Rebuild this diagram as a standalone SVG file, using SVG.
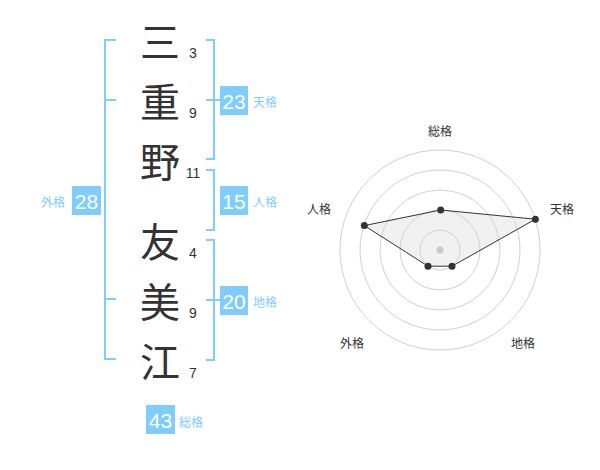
<svg xmlns="http://www.w3.org/2000/svg" width="600" height="470" viewBox="0 0 600 470">
<style>
.k{font-family:"Noto Sans CJK JP","Noto Sans CJK SC",sans-serif;font-size:40px;fill:#333;text-anchor:middle;dominant-baseline:central}
.n{font-family:"Liberation Sans",Arial,sans-serif;font-size:14px;fill:#333;text-anchor:middle;dominant-baseline:central}
.br{fill:none;stroke:#80ccfb;stroke-width:2}
.bx{fill:#80ccfb}
.bn{font-family:"Liberation Sans",Arial,sans-serif;font-size:21px;fill:#fff;text-anchor:middle;dominant-baseline:central}
.bl{font-family:"Noto Sans CJK JP",sans-serif;font-size:12px;fill:#80ccfb;dominant-baseline:central}
.ring{fill:none;stroke:#d0d0d0;stroke-width:1}
.rl{font-family:"Noto Sans CJK JP",sans-serif;font-size:12px;fill:#333;text-anchor:middle;dominant-baseline:central}
</style>
<g id="name">
<text class="k" x="160" y="40">三</text>
<text class="k" x="160" y="100">重</text>
<text class="k" x="160" y="160">野</text>
<text class="k" x="160" y="240">友</text>
<text class="k" x="160" y="300">美</text>
<text class="k" x="160" y="360">江</text>
<text class="n" x="193" y="53">3</text>
<text class="n" x="193" y="113">9</text>
<text class="n" x="193" y="173">11</text>
<text class="n" x="193" y="253">4</text>
<text class="n" x="193" y="313">9</text>
<text class="n" x="193" y="373">7</text>
</g>
<g id="connectors">
<path class="br" d="M116,40H105V359H116M105,100H116M105,299H116"/>
<path class="br" d="M206,40H214V159H206M206,100H220"/>
<path class="br" d="M206,170H214V230H206"/>
<path class="br" d="M206,240H214V360H206M206,300H220"/>
</g>
<g id="tenkaku">
<rect class="bx" x="220" y="86" width="28" height="29"/>
<text class="bn" x="234" y="101">23</text>
<text class="bl" x="253" y="101">天格</text>
</g>
<g id="jinkaku">
<rect class="bx" x="220" y="186" width="28" height="29"/>
<text class="bn" x="234" y="201">15</text>
<text class="bl" x="253" y="201">人格</text>
</g>
<g id="chikaku">
<rect class="bx" x="220" y="286" width="28" height="29"/>
<text class="bn" x="234" y="301">20</text>
<text class="bl" x="253" y="301">地格</text>
</g>
<g id="gaikaku">
<rect class="bx" x="72" y="186" width="29" height="29"/>
<text class="bn" x="86.5" y="201">28</text>
<text class="bl" x="53" y="201" text-anchor="middle">外格</text>
</g>
<g id="soukaku">
<rect class="bx" x="146" y="405" width="29" height="29"/>
<text class="bn" x="160.5" y="420">43</text>
<text class="bl" x="179" y="421">総格</text>
</g>
<g id="radar">
<circle class="ring" cx="440" cy="250" r="20"/>
<circle class="ring" cx="440" cy="250" r="40"/>
<circle class="ring" cx="440" cy="250" r="60"/>
<circle class="ring" cx="440" cy="250" r="80"/>
<circle class="ring" cx="440" cy="250" r="100"/>
<polygon points="440.7,210 535.4,219.2 452,266.2 428,266.2 364.3,225.6" fill="#d8d8d8" fill-opacity="0.35" stroke="#333" stroke-width="1"/>
<circle cx="440" cy="250" r="3.5" fill="#c8c8c8"/>
<g fill="#333">
<circle cx="440.7" cy="210" r="3.5"/>
<circle cx="535.4" cy="219.2" r="3.5"/>
<circle cx="452" cy="266.2" r="3.5"/>
<circle cx="428" cy="266.2" r="3.5"/>
<circle cx="364.3" cy="225.6" r="3.5"/>
</g>
<text class="rl" x="440" y="130">総格</text>
<text class="rl" x="562" y="208">天格</text>
<text class="rl" x="319" y="208">人格</text>
<text class="rl" x="352" y="342">外格</text>
<text class="rl" x="523" y="342">地格</text>
</g>
</svg>
